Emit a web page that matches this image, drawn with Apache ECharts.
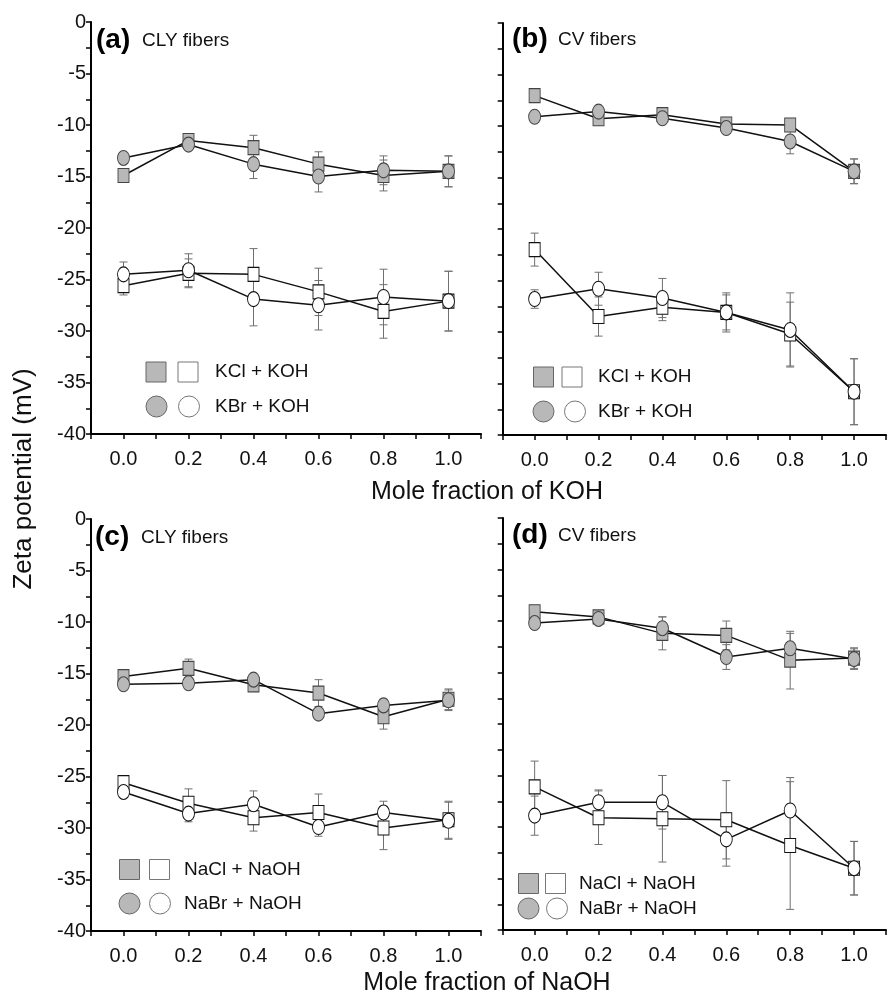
<!DOCTYPE html>
<html>
<head>
    <meta charset="UTF-8" />
    <script src="https://cdn.jsdelivr.net/npm/echarts@6/dist/echarts.min.js"></script>
</head>
<body style="margin: 0; background: #fff;">
    <div id="chart" style="width: 889px; height: 1001px;"></div>
    <script type="text/javascript">
        // mole fraction of hydroxide (x for every panel)
        const molFrac = [0.0, 0.2, 0.4, 0.6, 0.8, 1.0];

        // (a) CLY fibers, KOH
        const aKClFilled = [-14.9, -11.5, -12.2, -13.8, -14.9, -14.5];
        const aKClFilledErr = [0.3, 0.3, 1.2, 1.2, 1.5, 1.5];
        const aKBrFilled = [-13.2, -11.9, -13.8, -15.0, -14.4, -14.5];
        const aKBrFilledErr = [0.3, 0.4, 1.4, 1.5, 1.4, 1.5];
        const aKClOpen = [-25.6, -24.4, -24.5, -26.2, -28.1, -27.1];
        const aKClOpenErr = [0.9, 1.4, 2.5, 2.3, 2.6, 2.9];
        const aKBrOpen = [-24.5, -24.1, -26.9, -27.5, -26.7, -27.1];
        const aKBrOpenErr = [1.2, 1.6, 2.6, 2.4, 2.7, 2.9];

        // (b) CV fibers, KOH
        const bKClFilled = [-7.05, -9.3, -8.9, -9.8, -9.9, -14.4];
        const bKClFilledErr = [0.5, 0.4, 0.4, 0.4, 0.6, 1.2];
        const bKBrFilled = [-9.1, -8.6, -9.25, -10.2, -11.5, -14.4];
        const bKBrFilledErr = [0.4, 0.4, 0.3, 0.3, 1.2, 1.2];
        const bKClOpen = [-22.0, -28.5, -27.6, -28.1, -30.2, -35.8];
        const bKClOpenErr = [1.6, 1.9, 1.3, 1.9, 3.1, 3.2];
        const bKBrOpen = [-26.8, -25.8, -26.7, -28.1, -29.8, -35.8];
        const bKBrOpenErr = [0.9, 1.6, 1.9, 1.7, 3.6, 3.2];

        // (c) CLY fibers, NaOH
        const cNaClFilled = [-15.3, -14.5, -16.1, -16.9, -19.2, -17.5];
        const cNaClFilledErr = [0.4, 0.9, 0.3, 1.3, 1.2, 1.0];
        const cNaBrFilled = [-16.05, -15.95, -15.6, -18.9, -18.1, -17.6];
        const cNaBrFilledErr = [0.4, 0.4, 0.3, 0.4, 0.6, 1.0];
        const cNaClOpen = [-25.6, -27.6, -29.0, -28.5, -30.0, -29.2];
        const cNaClOpenErr = [0.6, 1.4, 1.3, 1.8, 2.1, 1.8];
        const cNaBrOpen = [-26.5, -28.6, -27.7, -29.9, -28.5, -29.3];
        const cNaBrOpenErr = [0.5, 0.8, 1.3, 0.9, 1.1, 1.8];

        // (d) CV fibers, NaOH
        const dNaClFilled = [-9.1, -9.6, -11.2, -11.4, -13.8, -13.6];
        const dNaClFilledErr = [0.6, 0.5, 1.6, 1.4, 2.8, 1.0];
        const dNaBrFilled = [-10.2, -9.8, -10.7, -13.5, -12.65, -13.7];
        const dNaBrFilledErr = [0.4, 0.3, 1.1, 1.2, 1.45, 1.0];
        const dNaClOpen = [-26.1, -29.1, -29.2, -29.3, -31.8, -34.0];
        const dNaClOpenErr = [2.5, 2.6, 4.2, 3.8, 6.2, 2.6];
        const dNaBrOpen = [-28.9, -27.6, -27.6, -31.2, -28.4, -34.0];
        const dNaBrOpenErr = [1.9, 1.2, 2.6, 2.6, 3.2, 2.6];

        const font = 'Arial, "Liberation Sans", sans-serif';
        const grey = '#b8b8b8';

        const panels = [
            { left: 91, top: 22, width: 390, yLabels: true,
              sets: [[aKClFilled, aKClFilledErr, 'rect', true], [aKBrFilled, aKBrFilledErr, 'circle', true],
                     [aKClOpen, aKClOpenErr, 'rect', false], [aKBrOpen, aKBrOpenErr, 'circle', false]] },
            { left: 502.7, top: 23, width: 393, yLabels: false,
              sets: [[bKClFilled, bKClFilledErr, 'rect', true], [bKBrFilled, bKBrFilledErr, 'circle', true],
                     [bKClOpen, bKClOpenErr, 'rect', false], [bKBrOpen, bKBrOpenErr, 'circle', false]] },
            { left: 91, top: 519, width: 390, yLabels: true,
              sets: [[cNaClFilled, cNaClFilledErr, 'rect', true], [cNaBrFilled, cNaBrFilledErr, 'circle', true],
                     [cNaClOpen, cNaClOpenErr, 'rect', false], [cNaBrOpen, cNaBrOpenErr, 'circle', false]] },
            { left: 502.7, top: 518, width: 393, yLabels: false,
              sets: [[dNaClFilled, dNaClFilledErr, 'rect', true], [dNaBrFilled, dNaBrFilledErr, 'circle', true],
                     [dNaClOpen, dNaClOpenErr, 'rect', false], [dNaBrOpen, dNaBrOpenErr, 'circle', false]] }
        ];

        function errItem(params, api) {
            const x = api.value(0);
            const lo = api.coord([x, api.value(1)]);
            const hi = api.coord([x, api.value(2)]);
            const st = { stroke: '#707070', lineWidth: 1 };
            const w = 4;
            return {
                type: 'group',
                children: [
                    { type: 'line', shape: { x1: hi[0], y1: hi[1], x2: lo[0], y2: lo[1] }, style: st },
                    { type: 'line', shape: { x1: hi[0] - w, y1: hi[1], x2: hi[0] + w, y2: hi[1] }, style: st },
                    { type: 'line', shape: { x1: lo[0] - w, y1: lo[1], x2: lo[0] + w, y2: lo[1] }, style: st }
                ]
            };
        }

        const grids = [], xAxes = [], yAxes = [], series = [];
        panels.forEach((p, i) => {
            grids.push({ left: p.left, top: p.top, width: p.width, height: 412 });
            xAxes.push({
                type: 'value', gridIndex: i, min: -0.1, max: 1.1, interval: 0.1,
                axisLine: { onZero: false, lineStyle: { color: '#000', width: 2 } },
                axisTick: { inside: false, length: 5, lineStyle: { color: '#000', width: 1.5 } },
                splitLine: { show: false },
                axisLabel: {
                    color: '#111', fontSize: 20, fontFamily: font, margin: 15,
                    formatter: function (v) {
                        const k = Math.round(v * 10);
                        return (k >= 0 && k <= 10 && k % 2 === 0) ? (k / 10).toFixed(1) : '';
                    }
                }
            });
            yAxes.push({
                type: 'value', gridIndex: i, min: -40, max: 0, interval: 2.5,
                axisLine: { show: true, onZero: false, lineStyle: { color: '#000', width: 2 } },
                axisTick: { show: true, inside: false, length: 5, lineStyle: { color: '#000', width: 1.5 } },
                splitLine: { show: false },
                axisLabel: {
                    show: p.yLabels, color: '#111', fontSize: 20, fontFamily: font, margin: 5,
                    formatter: function (v) {
                        return Math.round(v * 10) % 50 === 0 ? String(Math.round(v)) : '';
                    }
                }
            });
            p.sets.forEach(([vals, errs, sym, filled]) => {
                series.push({
                    type: 'custom', xAxisIndex: i, yAxisIndex: i, z: 1,
                    renderItem: errItem, silent: true,
                    data: molFrac.map((x, k) => [x, vals[k] - errs[k], vals[k] + errs[k]])
                });
                series.push({
                    type: 'line', xAxisIndex: i, yAxisIndex: i, z: 3,
                    symbol: sym, symbolSize: sym === 'rect' ? [11, 14] : [12, 15],
                    itemStyle: { color: filled ? grey : '#fff', borderColor: filled ? '#444' : '#111', borderWidth: 1 },
                    lineStyle: { color: '#111', width: 1.5 },
                    data: molFrac.map((x, k) => [x, vals[k]])
                });
            });
        });

        // panel tags and legends
        const g = [];
        function tag(x, y, letter, name) {
            g.push({ type: 'text', x: x, y: y, style: { text: '(' + letter + ')', font: 'bold 28px ' + font, fill: '#000', verticalAlign: 'middle' } });
            g.push({ type: 'text', x: x + 46, y: y + 1, style: { text: name, font: '19px ' + font, fill: '#111', verticalAlign: 'middle' } });
        }
        function legend(sqX, sqY, circY, circX1, circX2, sqX2, textX, t1, t2) {
            g.push({ type: 'rect', shape: { x: sqX, y: sqY, width: 20, height: 20 }, style: { fill: grey, stroke: '#666', lineWidth: 1 } });
            g.push({ type: 'rect', shape: { x: sqX2, y: sqY, width: 20, height: 20 }, style: { fill: '#fff', stroke: '#777', lineWidth: 1 } });
            g.push({ type: 'circle', shape: { cx: circX1, cy: circY, r: 10.5 }, style: { fill: grey, stroke: '#666', lineWidth: 1 } });
            g.push({ type: 'circle', shape: { cx: circX2, cy: circY, r: 10.5 }, style: { fill: '#fff', stroke: '#777', lineWidth: 1 } });
            g.push({ type: 'text', x: textX, y: sqY + 10, style: { text: t1, font: '19px ' + font, fill: '#111', verticalAlign: 'middle' } });
            g.push({ type: 'text', x: textX, y: circY, style: { text: t2, font: '19px ' + font, fill: '#111', verticalAlign: 'middle' } });
        }
        tag(96, 40, 'a', 'CLY fibers');
        tag(512, 39, 'b', 'CV fibers');
        tag(95, 537, 'c', 'CLY fibers');
        tag(512, 535, 'd', 'CV fibers');
        legend(146, 362, 406.5, 156.5, 189, 178, 215, 'KCl + KOH', 'KBr + KOH');
        legend(533.5, 367, 411.5, 543.5, 575, 562, 598, 'KCl + KOH', 'KBr + KOH');
        legend(119.5, 859.5, 903.5, 129.5, 160, 149.5, 184, 'NaCl + NaOH', 'NaBr + NaOH');
        legend(518.5, 873.5, 908.5, 528.5, 557, 545.5, 579, 'NaCl + NaOH', 'NaBr + NaOH');

        // axis titles
        g.push({ type: 'text', x: 487, y: 492, style: { text: 'Mole fraction of KOH', font: '25px ' + font, fill: '#111', align: 'center', verticalAlign: 'middle' } });
        g.push({ type: 'text', x: 487, y: 983, style: { text: 'Mole fraction of NaOH', font: '25px ' + font, fill: '#111', align: 'center', verticalAlign: 'middle' } });
        g.push({ type: 'text', x: 24, y: 479, rotation: Math.PI / 2, style: { text: 'Zeta potential (mV)', font: '26px ' + font, fill: '#111', align: 'center', verticalAlign: 'middle' } });

        const chart = echarts.init(document.getElementById('chart'));
        chart.setOption({
            animation: false,
            backgroundColor: '#fff',
            grid: grids,
            xAxis: xAxes,
            yAxis: yAxes,
            series: series,
            graphic: g
        });
    </script>
</body>
</html>
